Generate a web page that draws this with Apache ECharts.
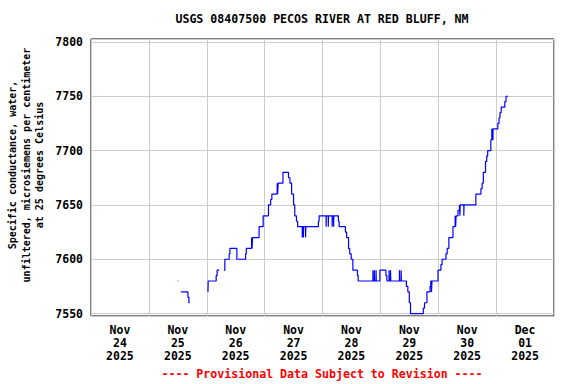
<!DOCTYPE html>
<html>
<head>
<meta charset="utf-8">
<script src="https://cdn.jsdelivr.net/npm/echarts@6/dist/echarts.min.js"></script>
<style>html,body{margin:0;padding:0;background:#fff;}#c{width:576px;height:384px;}</style>
</head>
<body>
<div id="c"></div>
<script>
// Day labels (categories, one per day band)
var dayLabels = ['Nov\n24\n2025','Nov\n25\n2025','Nov\n26\n2025','Nov\n27\n2025','Nov\n28\n2025','Nov\n29\n2025','Nov\n30\n2025','Dec\n01\n2025'];
// Time of each reading, hours since 2025-11-24 00:00 (null = gap)
var hours = [
35.9,36.2,null,
37.3,40.2,40.6,41.0,null,
48.5,48.6,51.9,52.3,53.2,null,
55.1,55.5,57.3,57.6,60.5,64.1,64.4,66.6,66.8,67.0,69.7,71.4,73.6,74.5,75.0,
77.2,77.4,77.6,79.6,81.9,82.5,83.2,84.0,84.5,85.2,85.7,
87.6,87.7,88.1,88.2,89.0,89.1,94.3,94.6,
97.5,97.6,98.4,98.5,100.0,100.1,100.6,100.7,
102.6,102.9,105.5,106.0,106.8,107.3,107.9,108.6,110.5,110.8,
116.9,117.0,117.5,117.6,118.2,118.3,119.8,122.3,122.7,
123.6,123.7,124.2,124.3,127.9,128.0,128.6,128.7,
130.8,131.4,132.0,132.5,137.8,138.3,139.3,140.6,140.9,141.2,141.4,
143.9,145.1,145.6,147.2,147.7,148.4,150.1,151.0,151.2,151.4,152.2,152.8,153.0,153.1,154.6,154.7,
159.6,161.7,162.2,162.7,163.6,164.1,164.5,165.8,166.2,166.4,166.7,
168.7,169.2,169.6,170.1,171.6,172.1,172.9
];
// Specific conductance values (uS/cm at 25 C)
var values = [
7580,7580,null,
7570,7565,7560,7560,null,
7570,7580,7585,7590,7590,null,
7590,7600,7605,7610,7600,7605,7610,7620,7610,7620,7630,7640,7650,7655,7660,
7670,7660,7670,7680,7675,7670,7660,7650,7640,7635,7630,
7620,7630,7620,7630,7620,7630,7635,7640,
7630,7640,7630,7640,7630,7640,7630,7640,
7635,7630,7625,7620,7610,7605,7600,7590,7585,7580,
7590,7580,7590,7580,7590,7580,7590,7585,7580,
7590,7580,7590,7580,7590,7580,7590,7580,
7575,7570,7560,7550,7555,7560,7570,7575,7580,7570,7580,
7590,7595,7600,7605,7610,7620,7630,7640,7630,7640,7645,7650,7640,7650,7640,7650,
7660,7665,7670,7680,7690,7695,7700,7710,7720,7710,7720,
7725,7730,7735,7740,7745,7750,7750
];
var titleText = 'USGS 08407500 PECOS RIVER AT RED BLUFF, NM';
var yName = 'Specific conductance, water,\nunfiltered, microsiemens per centimeter\nat 25 degrees Celsius';
var footer = '---- Provisional Data Subject to Revision ----';

var data = hours.map(function(h, i){ return [h === null ? (hours[i-1] + 0.1) : h, values[i]]; });
var mono = '"DejaVu Sans Mono", "Liberation Mono", monospace';

var chart = echarts.init(document.getElementById('c'), null, {renderer: 'svg'});
chart.setOption({
  animation: false,
  backgroundColor: '#fff',
  title: [
    {text: titleText, left: 322, top: 13, padding: 0, textAlign: 'center',
     textStyle: {fontFamily: mono, fontSize: 11.6, fontWeight: 'bold', color: '#000'}},
    {text: footer, left: 322, top: 368, padding: 0, textAlign: 'center',
     textStyle: {fontFamily: mono, fontSize: 11.6, fontWeight: 'bold', color: '#ff0000'}}
  ],
  graphic: [{
    type: 'text', x: 26, y: 165, rotation: Math.PI / 2,
    style: {text: yName, textAlign: 'center', textVerticalAlign: 'middle',
      font: 'bold 10px ' + mono, fill: '#000', lineHeight: 13.5}
  }],
  grid: {left: 91, right: 22, top: 39, bottom: 68, show: true, borderColor: '#000', borderWidth: 1},
  xAxis: [
    {type: 'category', data: dayLabels, boundaryGap: true,
     axisLine: {show: false}, axisTick: {show: false},
     splitLine: {show: true, lineStyle: {color: '#cccccc', width: 1}},
     axisLabel: {margin: 7.5, lineHeight: 13, fontFamily: mono, fontSize: 11.5, fontWeight: 'bold', color: '#000', interval: 0}},
    {type: 'value', min: 0, max: 192, show: false}
  ],
  yAxis: {type: 'value', min: 7547.8, max: 7802.7, splitNumber: 5,
    axisLine: {show: false}, axisTick: {show: false},
    splitLine: {show: true, lineStyle: {color: '#cccccc', width: 1}},
    axisLabel: {margin: 8, fontFamily: mono, fontSize: 11.5, fontWeight: 'bold', color: '#000',
      showMinLabel: false, showMaxLabel: false,
      formatter: function(v){ return (Math.abs(v % 50) < 1e-6) ? String(v) : ''; }}
  },
  series: [{
    type: 'line', xAxisIndex: 1, data: data, step: 'end', connectNulls: false,
    showSymbol: false, symbol: 'none',
    lineStyle: {color: '#0000ff', width: 1.2}
  }]
});
</script>
</body>
</html>
